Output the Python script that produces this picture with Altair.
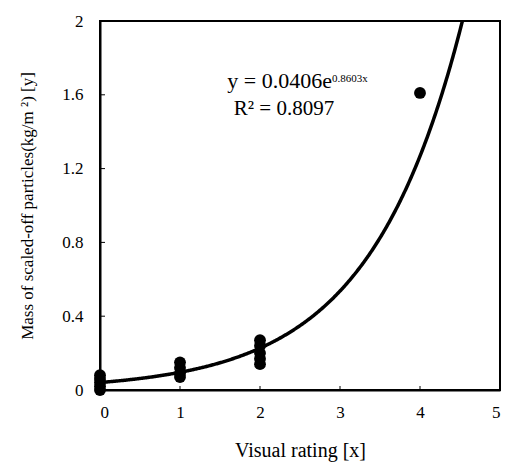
import altair as alt
import pandas as pd
import numpy as np

x_obs = [0, 0, 0, 0, 0, 1, 1, 1, 1, 2, 2, 2, 2, 2, 4]
y_obs = [0.0, 0.02, 0.04, 0.06, 0.08, 0.15, 0.12, 0.09, 0.07, 0.27, 0.24, 0.20, 0.17, 0.14, 1.61]

# fitted equation printed on the chart
coef_a = 0.0406
coef_b = 0.8603
r2 = 0.8097

x_ticks = [0, 1, 2, 3, 4, 5]
y_ticks = [0, 0.4, 0.8, 1.2, 1.6, 2.0]

FONT = "Liberation Serif"
W, H = 400, 369

pts = pd.DataFrame({"x": x_obs, "y": y_obs})

xs = alt.X("x:Q", scale=alt.Scale(domain=[0, 5], nice=False),
           axis=alt.Axis(values=x_ticks, title="Visual rating [x]", format="d",
                         tickSize=0, labelPadding=14, titlePadding=20,
                         titleFontSize=20))
ys = alt.Y("y:Q", scale=alt.Scale(domain=[0, 2], nice=False),
           axis=alt.Axis(values=y_ticks, title="Mass of scaled-off particles(kg/m  ²) [y]",
                         format=".1~f", tickSize=0, labelPadding=17, titlePadding=25,
                         titleFontSize=17))

curve = alt.Chart(alt.sequence(0, 4.8, 0.01, as_="x")).transform_calculate(
    y=f"{coef_a} * exp({coef_b} * datum.x)"
).mark_line(color="black", strokeWidth=3.5, clip=True).encode(x=xs, y=ys)

points = alt.Chart(pts).mark_circle(color="black", opacity=1, size=140).encode(x=xs, y=ys)

# inward tick marks
xt = pd.DataFrame({"x": x_ticks[1:-1]})
xtick = alt.Chart(xt).mark_rule(color="black", strokeWidth=1).encode(
    x="x:Q", y=alt.value(H), y2=alt.value(H - 4))
yt = pd.DataFrame({"y": y_ticks[1:-1]})
ytick = alt.Chart(yt).mark_rule(color="black", strokeWidth=1).encode(
    y="y:Q", x=alt.value(0), x2=alt.value(5))

eq_main = alt.Chart(pd.DataFrame({"x": [2.9], "y": [1.637], "t": [f"y = {coef_a}e"]})).mark_text(
    font=FONT, fontSize=22, align="right", baseline="alphabetic", color="black"
).encode(x="x:Q", y="y:Q", text="t:N")
eq_sup = alt.Chart(pd.DataFrame({"x": [2.9], "y": [1.637], "t": [f"{coef_b}x"]})).mark_text(
    font=FONT, fontSize=11, align="left", baseline="alphabetic", dy=-6, color="black"
).encode(x="x:Q", y="y:Q", text="t:N")
eq_r2 = alt.Chart(pd.DataFrame({"x": [2.30], "y": [1.49], "t": [f"R² = {r2}"]})).mark_text(
    font=FONT, fontSize=21, align="center", baseline="alphabetic", color="black"
).encode(x="x:Q", y="y:Q", text="t:N")

chart = alt.layer(curve, points, xtick, ytick, eq_main, eq_sup, eq_r2).properties(
    width=W, height=H,
    background="white",
    autosize=alt.AutoSizeParams(type="none"),
    padding={"left": 92, "top": 13, "right": 2, "bottom": 72},
).configure_view(stroke="black", strokeWidth=2).configure_axis(
    domainColor="black", domainWidth=2, grid=False,
    labelFont=FONT, titleFont=FONT, labelFontSize=17,
    labelColor="black", titleColor="black", titleFontWeight="normal",
)

chart.save("out.html", embed_options={"renderer": "svg", "actions": False})
